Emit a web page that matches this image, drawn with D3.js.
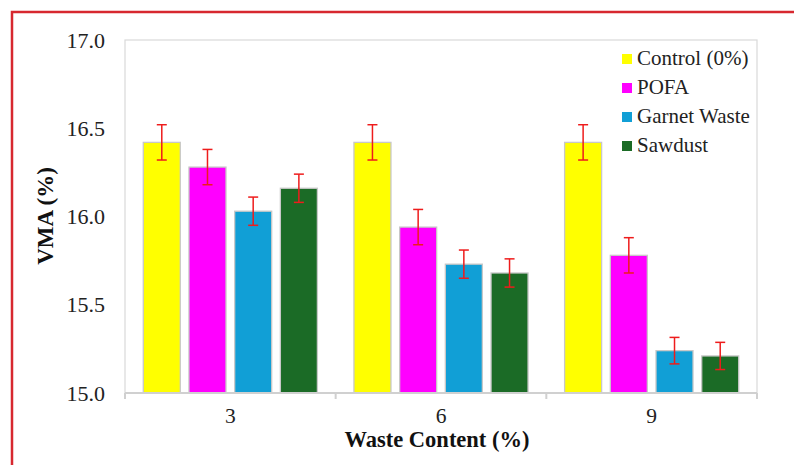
<!DOCTYPE html>
<html><head><meta charset="utf-8">
<script src="https://cdn.jsdelivr.net/npm/d3@7"></script>
<style>body{margin:0;background:#fff}svg{display:block}</style>
</head><body>
<svg id="c" width="794" height="465"></svg>
<script>
const categories = ["3", "6", "9"];
const series = ["Control (0%)", "POFA", "Garnet Waste", "Sawdust"];
const colors = ["#ffff00", "#ff00ff", "#119fd6", "#1b6b26"];
const values = {
  "Control (0%)": [16.42, 16.42, 16.42],
  "POFA": [16.28, 15.94, 15.78],
  "Garnet Waste": [16.03, 15.73, 15.24],
  "Sawdust": [16.16, 15.68, 15.21]
};
const errors = {
  "Control (0%)": [0.10, 0.10, 0.10],
  "POFA": [0.10, 0.10, 0.10],
  "Garnet Waste": [0.08, 0.08, 0.075],
  "Sawdust": [0.08, 0.08, 0.077]
};
const yTicks = [15.0, 15.5, 16.0, 16.5, 17.0];

const svg = d3.select("#c");
const L = 125, R = 757, T = 40, B = 393;
const FONT = "Liberation Serif";

// red frame
svg.append("path").attr("d", `M12,470 L12,12 L800,12`).attr("fill", "none")
  .attr("stroke", "#d7282f").attr("stroke-width", 2.5);

const x0 = d3.scaleBand().domain(categories).range([L, R]).paddingInner(0).paddingOuter(0);
const x1 = d3.scaleBand().domain(series).range([0, x0.bandwidth()]).paddingInner(0.19).paddingOuter(0.4);
const y = d3.scaleLinear().domain([15, 17]).range([B, T]);
const color = d3.scaleOrdinal().domain(series).range(colors);

// plot frame
svg.append("rect").attr("x", L).attr("y", T).attr("width", R - L).attr("height", B - T)
  .attr("fill", "none").attr("stroke", "#d9d9d9").attr("stroke-width", 1.2);

// bars
const data = [];
categories.forEach((c, i) => series.forEach(s => data.push({c, s, v: values[s][i], e: errors[s][i]})));
svg.append("g").selectAll("rect").data(data).join("rect")
  .attr("x", d => x0(d.c) + x1(d.s))
  .attr("y", d => y(d.v))
  .attr("width", x1.bandwidth())
  .attr("height", d => y(15) - y(d.v))
  .attr("fill", d => color(d.s))
  .attr("stroke", "#c8c8c8").attr("stroke-width", 1.3);

// error bars
const eg = svg.append("g").attr("stroke", "#ee1c1c").attr("stroke-width", 1.5).attr("fill", "none");
data.forEach(d => {
  const cx = x0(d.c) + x1(d.s) + x1.bandwidth() / 2;
  const y1 = y(d.v + d.e), y2 = y(d.v - d.e);
  eg.append("line").attr("x1", cx).attr("x2", cx).attr("y1", y1).attr("y2", y2);
  eg.append("line").attr("x1", cx - 5).attr("x2", cx + 5).attr("y1", y1).attr("y2", y1);
  eg.append("line").attr("x1", cx - 5).attr("x2", cx + 5).attr("y1", y2).attr("y2", y2);
});

// x axis
const xAxis = svg.append("g").attr("transform", `translate(0,${B})`);
xAxis.append("line").attr("x1", L).attr("x2", R).attr("stroke", "#d0d0d0").attr("stroke-width", 2);
const bounds = categories.map(c => x0(c)).concat([R]);
xAxis.selectAll("line.tk").data(bounds).join("line").attr("class", "tk")
  .attr("x1", d => d).attr("x2", d => d).attr("y1", 0).attr("y2", 6)
  .attr("stroke", "#d0d0d0").attr("stroke-width", 2);
xAxis.selectAll("text").data(categories).join("text")
  .attr("x", d => x0(d) + x0.bandwidth() / 2).attr("y", 30)
  .attr("text-anchor", "middle").style("font-family", FONT).attr("font-size", 21.5).attr("fill", "#222")
  .text(d => d);

// y axis
const yAxis = svg.append("g").attr("transform", `translate(${L},0)`)
  .call(d3.axisLeft(y).tickValues(yTicks).tickFormat(d3.format(".1f")).tickSize(0).tickPadding(20));
yAxis.attr("font-family", null).attr("font-size", null);
yAxis.select(".domain").remove();
yAxis.selectAll("text").style("font-family", FONT).attr("font-size", 22).attr("fill", "#222");

// titles
svg.append("text").attr("x", 437).attr("y", 447).attr("text-anchor", "middle")
  .style("font-family", FONT).attr("font-weight", "bold").attr("font-size", 22.5).attr("fill", "#111")
  .text("Waste Content (%)");
svg.append("text").attr("transform", "translate(53,216) rotate(-90)").attr("text-anchor", "middle")
  .style("font-family", FONT).attr("font-weight", "bold").attr("font-size", 23).attr("fill", "#111")
  .text("VMA (%)");

// legend
const lg = svg.append("g").attr("transform", "translate(622,54)");
series.forEach((s, i) => {
  const g = lg.append("g").attr("transform", `translate(0,${i * 29})`);
  g.append("rect").attr("width", 10).attr("height", 10).attr("fill", color(s));
  g.append("text").attr("x", 15).attr("y", 11).style("font-family", FONT).attr("font-size", 21)
    .attr("fill", "#222").text(s);
});
</script>
</body></html>
